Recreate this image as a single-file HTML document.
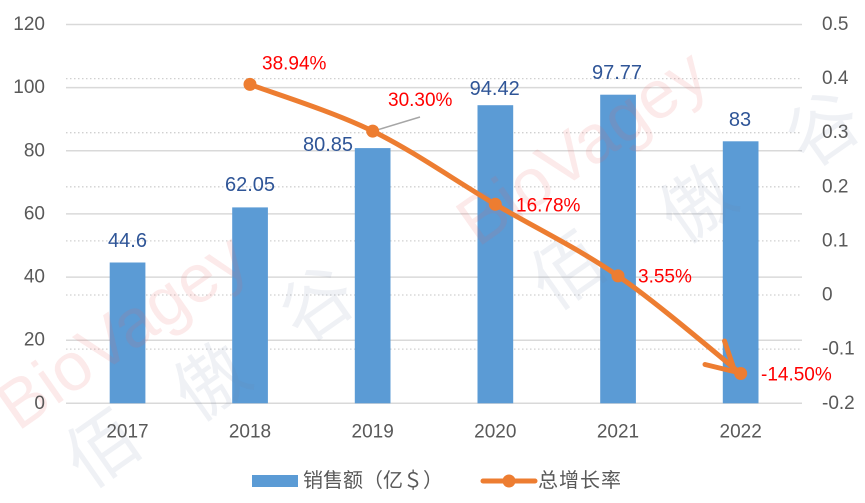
<!DOCTYPE html>
<html>
<head>
<meta charset="utf-8">
<style>
html,body{margin:0;padding:0;background:#fff;}
svg{display:block;}
text{font-family:"Liberation Sans","Noto Sans CJK SC",sans-serif;}
</style>
</head>
<body>
<svg width="865" height="503" viewBox="0 0 865 503" xmlns="http://www.w3.org/2000/svg">
<rect width="865" height="503" fill="#fff"/>

<!-- dotted gridlines (right axis) -->
<g stroke="#D0D0D0" stroke-width="1.3" stroke-dasharray="1.5,2.5">
<line x1="66" y1="78.6" x2="802" y2="78.6"/>
<line x1="66" y1="132.7" x2="802" y2="132.7"/>
<line x1="66" y1="186.8" x2="802" y2="186.8"/>
<line x1="66" y1="240.9" x2="802" y2="240.9"/>
<line x1="66" y1="295.0" x2="802" y2="295.0"/>
<line x1="66" y1="349.1" x2="802" y2="349.1"/>
</g>
<!-- solid gridlines (left axis) -->
<g stroke="#D9D9D9" stroke-width="1.5">
<line x1="66" y1="24.5" x2="802" y2="24.5"/>
<line x1="66" y1="87.6" x2="802" y2="87.6"/>
<line x1="66" y1="150.8" x2="802" y2="150.8"/>
<line x1="66" y1="213.9" x2="802" y2="213.9"/>
<line x1="66" y1="277.1" x2="802" y2="277.1"/>
<line x1="66" y1="340.2" x2="802" y2="340.2"/>
<line x1="66" y1="403.3" x2="802" y2="403.3"/>
</g>

<!-- bars -->
<g fill="#5B9BD5">
<rect x="109.7" y="262.5" width="35.7" height="140.8"/>
<rect x="232.2" y="207.4" width="35.7" height="195.9"/>
<rect x="354.8" y="148.1" width="35.7" height="255.2"/>
<rect x="477.5" y="105.2" width="35.7" height="298.1"/>
<rect x="600.2" y="94.7" width="35.7" height="308.6"/>
<rect x="722.8" y="141.3" width="35.7" height="262.0"/>
</g>

<!-- watermarks -->
<g font-size="68" fill="rgba(235,90,90,0.13)">
<text x="18" y="432" transform="rotate(-35 18 432)">BioVagey</text>
<text x="478" y="248" transform="rotate(-35 478 248)">BioVagey</text>
</g>
<g font-size="72" fill="rgba(110,125,160,0.11)" text-anchor="middle" dominant-baseline="central">
<text x="103" y="450" transform="rotate(-35 103 450)">佰</text>
<text x="212" y="383" transform="rotate(-35 212 383)">傲</text>
<text x="318" y="305" transform="rotate(-35 318 305)">谷</text>
<text x="568" y="272" transform="rotate(-35 568 272)">佰</text>
<text x="698" y="205" transform="rotate(-35 698 205)">傲</text>
<text x="824" y="130" transform="rotate(-35 824 130)">谷</text>
</g>

<!-- leader line -->
<line x1="377" y1="130" x2="420" y2="117" stroke="#A6A6A6" stroke-width="1.5"/>

<!-- growth line -->
<path d="M250,84.4 C270.4,92.2 331.8,111.1 372.7,131.1 C413.6,151.1 454.4,180.2 495.3,204.3 C536.2,228.4 577.1,247.7 618,275.9 C658.9,304.1 720.3,357.2 740.7,373.5" fill="none" stroke="#ED7D31" stroke-width="5" stroke-linecap="round"/>
<!-- hand-drawn arrowhead -->
<g stroke="#ED7D31" stroke-width="5" stroke-linecap="round" fill="none">
<line x1="705" y1="364.5" x2="736" y2="372"/>
<line x1="724.5" y1="341" x2="733" y2="366"/>
</g>
<g fill="#ED7D31">
<circle cx="250" cy="84.4" r="6.5"/>
<circle cx="372.7" cy="131.1" r="6.5"/>
<circle cx="495.3" cy="204.3" r="6.5"/>
<circle cx="618" cy="275.9" r="6.5"/>
<circle cx="740.7" cy="373.5" r="6.5"/>
</g>

<!-- left axis labels -->
<g font-size="19" fill="#595959" text-anchor="end" dominant-baseline="central">
<text x="45" y="24.5">120</text>
<text x="45" y="87.6">100</text>
<text x="45" y="150.8">80</text>
<text x="45" y="213.9">60</text>
<text x="45" y="277.1">40</text>
<text x="45" y="340.2">20</text>
<text x="45" y="403.3">0</text>
</g>
<!-- right axis labels -->
<g font-size="19" fill="#595959" dominant-baseline="central">
<text x="822" y="24.5">0.5</text>
<text x="822" y="78.6">0.4</text>
<text x="822" y="132.7">0.3</text>
<text x="822" y="186.8">0.2</text>
<text x="822" y="240.9">0.1</text>
<text x="822" y="295.0">0</text>
<text x="822" y="349.1">-0.1</text>
<text x="822" y="403.3">-0.2</text>
</g>
<!-- x labels -->
<g font-size="19" fill="#595959" text-anchor="middle" dominant-baseline="central">
<text x="127.5" y="432">2017</text>
<text x="250" y="432">2018</text>
<text x="372.7" y="432">2019</text>
<text x="495.3" y="432">2020</text>
<text x="618" y="432">2021</text>
<text x="740.7" y="432">2022</text>
</g>

<!-- bar data labels -->
<g font-size="20" fill="#2F5597" text-anchor="middle" dominant-baseline="central">
<text x="127.5" y="241">44.6</text>
<text x="250" y="185">62.05</text>
<text x="328" y="145">80.85</text>
<text x="494.7" y="89">94.42</text>
<text x="617" y="73">97.77</text>
<text x="740" y="120">83</text>
</g>
<!-- growth data labels -->
<g font-size="19" fill="#FF0000" dominant-baseline="central">
<text x="262" y="64">38.94%</text>
<text x="388" y="100.5">30.30%</text>
<text x="516" y="206">16.78%</text>
<text x="638" y="277">3.55%</text>
<text x="761" y="375">-14.50%</text>
</g>

<!-- legend -->
<rect x="252" y="475" width="46" height="12" fill="#5B9BD5"/>
<text x="303" y="481" font-size="20" fill="#595959" dominant-baseline="central">销售额（亿＄）</text>
<line x1="483" y1="481" x2="535" y2="481" stroke="#ED7D31" stroke-width="5" stroke-linecap="round"/>
<circle cx="509" cy="481" r="6.5" fill="#ED7D31"/>
<text x="538" y="481" font-size="20" fill="#595959" dominant-baseline="central" letter-spacing="1">总增长率</text>
</svg>
</body>
</html>
